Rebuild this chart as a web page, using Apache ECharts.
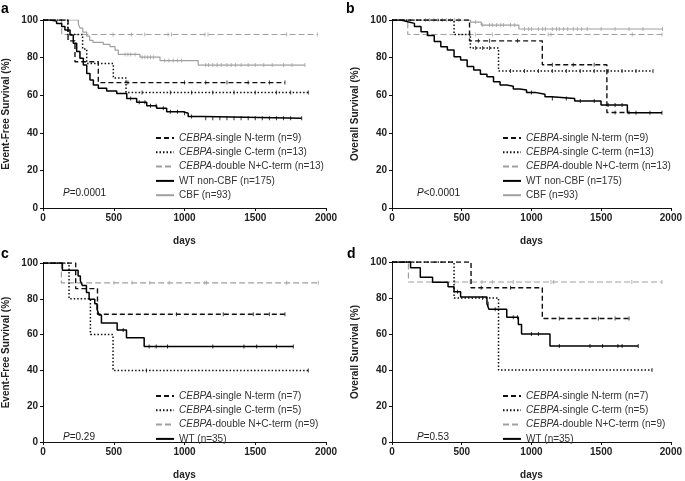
<!DOCTYPE html>
<html><head><meta charset="utf-8">
<script src="https://cdn.jsdelivr.net/npm/echarts/dist/echarts.min.js"></script>
<style>html,body{margin:0;padding:0;background:#fff}#c{width:685px;height:481px}</style>
</head><body><div id="c"></div><script>
// ---------- DATA (days, survival %) ----------
// Panel a: Event-free survival, full cohort
const aNtermT = [0,177,226,391,1710];
const aNtermS = [100,88.9,77.8,66.7,66.7];
const aNtermC = [600,1000,1150,1300,1450,1600,1710];
const aCtermT = [0,175,280,309,497,587,1875];
const aCtermS = [100,92.3,84.6,76.9,69.2,61.5,61.5];
const aCtermC = [700,900,1050,1200,1350,1500,1650,1750,1875];
const aDoubleT = [0,132,1939];
const aDoubleS = [100,92.3,92.3];
const aDoubleC = [495,625,719,884,908,1144,1166,1722,1939];
const aWtT = [0,49,96,132,155,191,214,238,261,285,309,332,356,391,450,521,592,662,733,803,874,991,1026,1132,1828];
const aWtS = [100,99.4,98.2,96.5,94.7,92,87.6,83.2,79.6,76,71.6,68.1,65.4,63.7,62.2,60.9,58.3,56.2,54.4,53,51.2,50.4,48.7,47.8,47.8];
const aWtC = [620,680,720,760,800,850,900,950,1000,1050,1150,1200,1250,1300,1350,1400,1450,1500,1550,1600,1650,1700,1750,1828];
const aCbfT = [0,250,262,281,309,330,353,426,473,509,532,685,827,1097,1851];
const aCbfS = [100,97.8,95.7,93.5,91.4,89.2,88.1,87,85.8,84,81.7,80.2,78.4,76,76];
const aCbfC = [580,600,620,650,700,720,740,760,780,860,890,920,950,980,1150,1170,1200,1230,1260,1300,1330,1360,1400,1450,1500,1560,1620,1700,1760,1851];

// Panel b: Overall survival, full cohort
const bNtermT = [0,556,1078,1541,1700];
const bNtermS = [100,88.9,76.2,50.8,50.8];
const bNtermC = [620,700,900,1150,1300,1450,1600,1700];
const bCtermT = [0,445,562,764,1872];
const bCtermS = [100,92.3,85.1,72.9,72.9];
const bCtermC = [600,650,700,850,950,1050,1150,1250,1350,1450,1550,1650,1750,1872];
const bDoubleT = [0,113,1936];
const bDoubleS = [100,92.3,92.3];
const bDoubleC = [250,560,600,720,1120,1140,1723,1936];
const bWtT = [0,66,113,161,208,255,303,350,397,445,492,539,586,634,681,728,775,823,870,917,965,1026,1097,1144,1310,1499,1688,1936];
const bWtS = [100,99.1,98.2,96.5,93.8,91.7,88.5,85.8,84,80.5,78.7,75.2,73.4,71.1,69.8,67.2,65.4,64.8,63.3,62.8,61.5,60.5,59.2,58.3,56.9,54.8,50.7,50.7];
const bWtC = [1000,1150,1250,1350,1450,1550,1600,1650,1750,1850,1936];
const bCbfT = [0,563,640,910,1940];
const bCbfS = [100,98.9,97.3,95.2,95.2];
const bCbfC = [240,270,300,330,360,390,420,450,480,600,650,700,720,750,780,800,850,880,950,980,1000,1050,1080,1100,1150,1180,1200,1230,1260,1300,1330,1360,1400,1500,1600,1700,1800,1940];

// Panel c: Event-free survival, subgroup
const cNtermT = [0,231,385,1710];
const cNtermS = [100,85.7,71.4,71.4];
const cNtermC = [943,1274,1486,1600,1710];
const cCtermT = [0,184,335,495,1875];
const cCtermS = [100,80,60,40,40];
const cCtermC = [731,1875];
const cDoubleT = [0,130,1945];
const cDoubleS = [100,88.9,88.9];
const cDoubleC = [502,630,755,892,1144,1156,1722,1945];
const cWtT = [0,137,248,264,278,307,326,366,382,396,413,524,590,715,1769];
const cWtS = [100,96,92.8,90.1,87.4,83.5,79.8,77.3,74.1,71,66.5,62.6,58.2,53.4,53.4];
const cWtC = [567,750,800,880,1200,1420,1510,1650,1769];

// Panel d: Overall survival, subgroup
const dNtermT = [0,567,1078,1700];
const dNtermS = [100,85.7,68.6,68.6];
const dNtermC = [640,850,1200,1480,1600,1700];
const dCtermT = [0,445,764,1865];
const dCtermS = [100,80,40,40];
const dCtermC = [650,1865];
const dDoubleT = [0,118,1936];
const dDoubleS = [100,88.9,88.9];
const dDoubleC = [450,560,645,720,870,1140,1160,1720,1936];
const dWtT = [0,133,203,291,402,445,492,681,695,823,906,929,1133,1766];
const dWtS = [100,96.8,91.5,88.8,86.2,83.5,80.5,76.8,73.8,69.3,65.3,60,53.4,53.4];
const dWtC = [470,690,740,870,900,1000,1050,1200,1420,1510,1620,1650,1766];

const xTicks = ['0','500','1000','1500','2000'];
const yTicks = ['0','20','40','60','80','100'];

const namesAB = ['CEBPA-single N-term (n=9)','CEBPA-single C-term (n=13)','CEBPA-double N+C-term (n=13)','WT non-CBF (n=175)','CBF (n=93)'];
const namesCD = ['CEBPA-single N-term (n=7)','CEBPA-single C-term (n=5)','CEBPA-double N+C-term (n=9)','WT (n=35)'];
const yNames = ['Event-Free Survival (%)','Overall Survival (%)','Event-Free Survival (%)','Overall Survival (%)'];
const pTexts = ['=0.0001','<0.0001','=0.29','=0.53'];
const letters = ['a','b','c','d'];

// ---------- STYLES ----------
const FONT = 'Liberation Sans, Arial, sans-serif';
const styles = {
  nterm: {color:'#111', width:1.4, type:[5,3], z:4},
  cterm: {color:'#111', width:1.5, type:[1.5,2], z:4},
  dbl:   {color:'#a0a0a0', width:1.2, type:[6,3], z:2},
  wt:    {color:'#000', width:1.5, type:'solid', z:5},
  cbf:   {color:'#a0a0a0', width:1.2, type:'solid', z:3}
};

function stepAt(T,S,t){ let v=S[0]; for(let i=0;i<T.length;i++){ if(T[i]<=t) v=S[i]; } return v; }

const series = [];
function km(idx, name, T, S, C, st){
  series.push({
    type:'line', name:name, xAxisIndex:idx, yAxisIndex:idx, step:'end',
    symbol:'none', showSymbol:false, animation:false, z:st.z,
    lineStyle:{color:st.color, width:st.width, type:st.type},
    itemStyle:{color:st.color},
    data:T.map((t,i)=>[t,S[i]])
  });
  series.push({
    type:'scatter', name:name+' censored', xAxisIndex:idx, yAxisIndex:idx,
    symbol:'rect', symbolSize:[1,4], silent:true, animation:false, z:st.z,
    itemStyle:{color:st.color},
    data:C.map(t=>[t,stepAt(T,S,t)])
  });
}
km(0,namesAB[0],aNtermT,aNtermS,aNtermC,styles.nterm);
km(0,namesAB[1],aCtermT,aCtermS,aCtermC,styles.cterm);
km(0,namesAB[2],aDoubleT,aDoubleS,aDoubleC,styles.dbl);
km(0,namesAB[3],aWtT,aWtS,aWtC,styles.wt);
km(0,namesAB[4],aCbfT,aCbfS,aCbfC,styles.cbf);
km(1,namesAB[0],bNtermT,bNtermS,bNtermC,styles.nterm);
km(1,namesAB[1],bCtermT,bCtermS,bCtermC,styles.cterm);
km(1,namesAB[2],bDoubleT,bDoubleS,bDoubleC,styles.dbl);
km(1,namesAB[3],bWtT,bWtS,bWtC,styles.wt);
km(1,namesAB[4],bCbfT,bCbfS,bCbfC,styles.cbf);
km(2,namesCD[0],cNtermT,cNtermS,cNtermC,styles.nterm);
km(2,namesCD[1],cCtermT,cCtermS,cCtermC,styles.cterm);
km(2,namesCD[2],cDoubleT,cDoubleS,cDoubleC,styles.dbl);
km(2,namesCD[3],cWtT,cWtS,cWtC,styles.wt);
km(3,namesCD[0],dNtermT,dNtermS,dNtermC,styles.nterm);
km(3,namesCD[1],dCtermT,dCtermS,dCtermC,styles.cterm);
km(3,namesCD[2],dDoubleT,dDoubleS,dDoubleC,styles.dbl);
km(3,namesCD[3],dWtT,dWtS,dWtC,styles.wt);

const grids = [
  {left:43, top:20, width:283, height:188},
  {left:392, top:20, width:282, height:188},
  {left:43, top:263, width:283, height:188},
  {left:392, top:262, width:282, height:188}
];
const axisLine = {lineStyle:{color:'#111', width:1}};
const xAxes = grids.map((g,i)=>({
  gridIndex:i, type:'value', min:0, max:2000, interval:500,
  name:'days', nameLocation:'middle', nameGap:28,
  nameTextStyle:{fontFamily:FONT, fontWeight:'bold', fontSize:10, color:'#222'},
  axisLine:axisLine, axisTick:{show:true, length:3, lineStyle:{color:'#111'}},
  axisLabel:{fontFamily:FONT, fontWeight:'bold', fontSize:10, color:'#222', margin:5,
    formatter:(v)=>xTicks[Math.round(v/500)]},
  splitLine:{show:false}
}));
const yAxes = grids.map((g,i)=>({
  gridIndex:i, type:'value', min:0, max:100, interval:20,
  name:yNames[i], nameLocation:'middle', nameGap:32, nameRotate:90,
  nameTextStyle:{fontFamily:FONT, fontWeight:'bold', fontSize:10, color:'#222'},
  axisLine:{show:true, lineStyle:{color:'#111', width:1}},
  axisTick:{show:true, length:3, lineStyle:{color:'#111'}},
  axisLabel:{fontFamily:FONT, fontWeight:'bold', fontSize:10, color:'#222', margin:5,
    formatter:(v)=>yTicks[Math.round(v/20)]},
  splitLine:{show:false}
}));

function legendFmt(name){
  if (name.indexOf('CEBPA')===0) return '{i|CEBPA}{n|'+name.slice(5)+'}';
  return '{n|'+name+'}';
}
const legendText = {fontFamily:FONT, fontSize:10, color:'#333',
  rich:{i:{fontFamily:FONT, fontSize:10, fontStyle:'italic', color:'#333'}, n:{fontFamily:FONT, fontSize:10, color:'#333'}}};
const legendPos = [[150,128],[497,128],[150,386],[497,386]];
const legends = legendPos.map((p,i)=>({
  orient:'vertical', left:p[0], top:p[1], itemWidth:18, itemHeight:8, itemGap:4.3,
  itemStyle:{opacity:0},
  data:(i<2?namesAB:namesCD), formatter:legendFmt, textStyle:legendText, selectedMode:false
}));

const pPos = [[63,193],[417,193],[63,437],[417,437]];
const letterPos = [[1,9],[346,9],[1,254],[347,254]];
const graphic = [];
pPos.forEach((p,i)=>{
  graphic.push({type:'text', left:p[0], top:p[1]-5, style:{
    text:'{p|P}{n|'+pTexts[i]+'}', rich:{p:{fontFamily:FONT, fontSize:10, fontStyle:'italic', fill:'#222'}, n:{fontFamily:FONT, fontSize:10, fill:'#222'}}
  }});
});
letterPos.forEach((p,i)=>{
  graphic.push({type:'text', left:p[0], top:p[1]-7, style:{text:letters[i], fontFamily:FONT, fontWeight:'bold', fontSize:14, fill:'#000'}});
});

const chart = echarts.init(document.getElementById('c'), null, {renderer:'canvas'});
chart.setOption({
  animation:false, backgroundColor:'#fff',
  grid:grids, xAxis:xAxes, yAxis:yAxes, legend:legends, series:series, graphic:graphic
});
</script></body></html>
